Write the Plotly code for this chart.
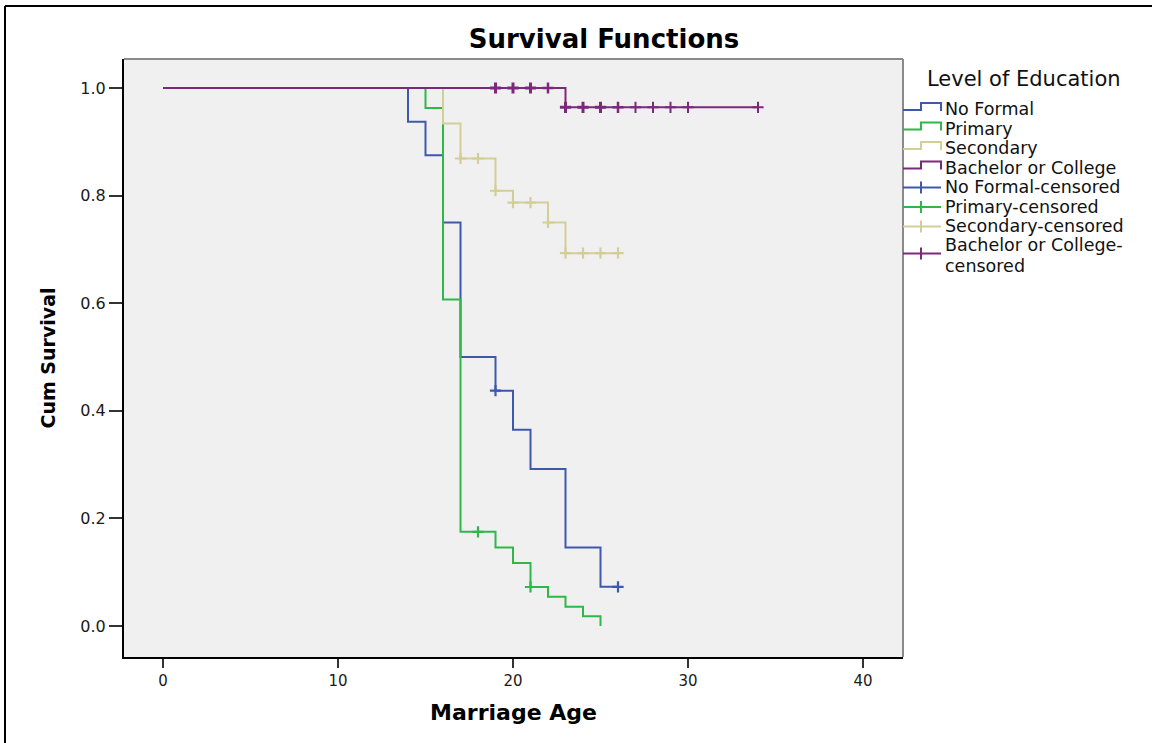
import plotly.graph_objects as go

# ---------------- data ----------------
series_names = ["No Formal", "Primary", "Secondary", "Bachelor or College"]

nf_time = [0, 14, 15, 16, 17, 19, 20, 21, 23, 25, 26]
nf_surv = [1.0, 0.9375, 0.875, 0.75, 0.5, 0.4375, 0.3646, 0.2917, 0.1458, 0.0729, 0.0729]
nf_cens_time = [19, 26]
nf_cens_surv = [0.4375, 0.0729]

pr_time = [0, 15, 16, 17, 19, 20, 21, 22, 23, 24, 25]
pr_surv = [1.0, 0.963, 0.607, 0.175, 0.146, 0.117, 0.0725, 0.0545, 0.036, 0.018, 0.0]
pr_cens_time = [18, 21]
pr_cens_surv = [0.175, 0.0725]

se_time = [0, 16, 17, 19, 20, 22, 23, 26]
se_surv = [1.0, 0.934, 0.869, 0.809, 0.787, 0.75, 0.693, 0.693]
se_cens_time = [17, 18, 19, 20, 21, 22, 23, 24, 25, 26]
se_cens_surv = [0.869, 0.869, 0.809, 0.787, 0.787, 0.75, 0.693, 0.693, 0.693, 0.693]

ba_time = [0, 23, 34]
ba_surv = [1.0, 0.964, 0.964]
ba_cens_time = [19, 20, 21, 22, 23, 24, 25, 26, 27, 28, 29, 30, 34]
ba_cens_surv = [1.0, 1.0, 1.0, 1.0, 0.964, 0.964, 0.964, 0.964, 0.964, 0.964, 0.964, 0.964, 0.964]

x_ticks = [0, 10, 20, 30, 40]
y_ticks = [0.0, 0.2, 0.4, 0.6, 0.8, 1.0]

legend_title = "Level of Education"
legend_labels = ["No Formal", "Primary", "Secondary", "Bachelor or College",
                 "No Formal-censored", "Primary-censored", "Secondary-censored",
                 "Bachelor or College-censored"]

# ---------------- styling ----------------
colors = ["#3E58AC", "#2EB848", "#D3CE97", "#7C287D"]
FONT = "DejaVu Sans, Verdana, Arial, sans-serif"

W, H = 1152, 743
ML, MR, MT, MB = 124, 249, 59, 86
PW, PH = W - ML - MR, H - MT - MB


def px(x):
    return (x - ML) / PW


def py(y):
    return (H - MB - y) / PH


fig = go.Figure()

lines = [(nf_time, nf_surv), (pr_time, pr_surv), (se_time, se_surv), (ba_time, ba_surv)]
cens = [(nf_cens_time, nf_cens_surv), (pr_cens_time, pr_cens_surv),
        (se_cens_time, se_cens_surv), (ba_cens_time, ba_cens_surv)]

for (t, s), name, c in zip(lines, series_names, colors):
    fig.add_trace(go.Scatter(x=t, y=s, mode="lines", line=dict(shape="hv", color=c, width=2),
                             name=name, showlegend=False, hoverinfo="skip"))

bold_ba = [3, 3, 3, 2.5, 3, 3, 3, 2.5, 2, 2, 2, 2, 2]
for i, ((t, s), name, c) in enumerate(zip(cens, series_names, colors)):
    lw = bold_ba if i == 3 else 2.2
    fig.add_trace(go.Scatter(x=t, y=s, mode="markers", name=name + "-censored",
                             marker=dict(symbol="cross-thin", size=8, color=c,
                                         line=dict(color=c, width=lw)),
                             showlegend=False, hoverinfo="skip"))

shapes = []
annotations = []

# plot frame top/right (grey)
shapes.append(dict(type="line", xref="paper", yref="paper", x0=0, x1=1, y0=1, y1=1,
                   line=dict(color="#8a8a8a", width=2)))
shapes.append(dict(type="line", xref="paper", yref="paper", x0=1, x1=1, y0=0, y1=1,
                   line=dict(color="#8a8a8a", width=2)))
# outer image frame (top / left)
shapes.append(dict(type="line", xref="paper", yref="paper", x0=px(5), x1=px(1160), y0=py(6), y1=py(6),
                   line=dict(color="black", width=2)))
shapes.append(dict(type="line", xref="paper", yref="paper", x0=px(5), x1=px(5), y0=py(6), y1=py(760),
                   line=dict(color="black", width=2)))

# custom legend
annotations.append(dict(text=legend_title, xref="paper", yref="paper", x=px(925), y=py(79),
                        xanchor="left", yanchor="middle", showarrow=False,
                        font=dict(family=FONT, size=21, color="#111")))
row_y = [109, 128.5, 148, 167.5, 187, 206.5, 226, 253]
gx0, gxm, gx1 = 903, 921, 941
LEG_SIZE = 17.5
for k, (lab, yc) in enumerate(zip(legend_labels, row_y)):
    c = colors[k % 4]
    if k < 4:
        path = "M {a},{b} L {c_},{b} L {c_},{d} L {e},{d} L {e},{f}".format(
            a=px(gx0), b=py(yc + 1), c_=px(gxm), d=py(yc - 6), e=px(gx1), f=py(yc + 2))
        shapes.append(dict(type="path", xref="paper", yref="paper", path=path,
                           line=dict(color=c, width=2)))
    else:
        shapes.append(dict(type="line", xref="paper", yref="paper", x0=px(gx0), x1=px(gx1),
                           y0=py(yc + 0.5), y1=py(yc + 0.5), line=dict(color=c, width=2)))
        shapes.append(dict(type="line", xref="paper", yref="paper", x0=px(gxm), x1=px(gxm),
                           y0=py(yc - 5.5), y1=py(yc + 6.5), line=dict(color=c, width=2)))
    if k < 7:
        annotations.append(dict(text=lab, xref="paper", yref="paper", x=px(943), y=py(yc),
                                xanchor="left", yanchor="middle", showarrow=False,
                                font=dict(family=FONT, size=LEG_SIZE, color="#111")))
    else:
        first, second = lab.split("-")[0] + "-", lab.split("-")[1]
        annotations.append(dict(text=first, xref="paper", yref="paper", x=px(943), y=py(245),
                                xanchor="left", yanchor="middle", showarrow=False,
                                font=dict(family=FONT, size=LEG_SIZE, color="#111")))
        annotations.append(dict(text=second, xref="paper", yref="paper", x=px(943), y=py(265.5),
                                xanchor="left", yanchor="middle", showarrow=False,
                                font=dict(family=FONT, size=LEG_SIZE, color="#111")))

fig.update_layout(
    width=W, height=H,
    margin=dict(l=ML, r=MR, t=MT, b=MB),
    paper_bgcolor="white",
    plot_bgcolor="#F0F0F0",
    title=dict(text="<b>Survival Functions</b>", x=604 / W, xanchor="center",
               y=1 - 39 / H, yanchor="middle", yref="container",
               font=dict(family=FONT, size=26, color="black")),
    shapes=shapes,
    annotations=annotations,
    showlegend=False,
)

fig.update_xaxes(range=[(124 - 163) / 17.5, (903 - 163) / 17.5], tickvals=x_ticks,
                 ticktext=[str(v) for v in x_ticks],
                 showgrid=False, zeroline=False, showline=True, linecolor="black", linewidth=2,
                 ticks="outside", ticklen=9, tickwidth=2, tickcolor="#333",
                 tickfont=dict(family=FONT, size=15, color="#1a1a1a"),
                 title=dict(text="<b>Marriage Age</b>", standoff=16,
                            font=dict(family=FONT, size=22, color="black")))
fig.update_yaxes(range=[(626 - 657) / 538, (626 - 59) / 538], tickvals=y_ticks,
                 ticktext=["%.1f" % v for v in y_ticks],
                 showgrid=False, zeroline=False, showline=True, linecolor="black", linewidth=2,
                 ticks="outside", ticklen=13, tickwidth=2, tickcolor="#333",
                 tickfont=dict(family=FONT, size=16, color="#1a1a1a"),
                 title=dict(text="<b>Cum Survival</b>", standoff=20,
                            font=dict(family=FONT, size=19, color="black")))

fig.write_html("out.html")
